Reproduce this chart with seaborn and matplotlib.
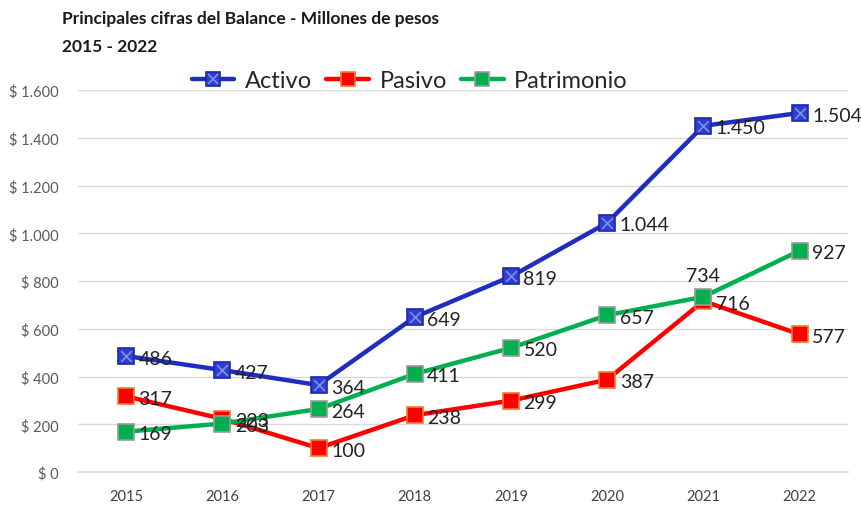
import pandas as pd
import seaborn as sns
import matplotlib.pyplot as plt
from matplotlib.lines import Line2D
from matplotlib.legend_handler import HandlerTuple

# Data
years = ['2015', '2016', '2017', '2018', '2019', '2020', '2021', '2022']
activo = [486, 427, 364, 649, 819, 1044, 1450, 1504]
pasivo = [317, 223, 100, 238, 299, 387, 716, 577]
patrimonio = [169, 203, 264, 411, 520, 657, 734, 927]
series_names = ['Activo', 'Pasivo', 'Patrimonio']

line_colors = {'Activo': '#1F2DC0', 'Pasivo': '#FF0000', 'Patrimonio': '#00B050'}
face_colors = {'Activo': '#2E3FD0', 'Pasivo': '#FF0000', 'Patrimonio': '#00B050'}
edge_colors = {'Activo': '#1A2AA8', 'Pasivo': '#F07A30', 'Patrimonio': '#9A9A9A'}

df = pd.DataFrame({'pos': list(range(len(years))) * 3,
                   'valor': activo + pasivo + patrimonio,
                   'serie': [s for s in series_names for _ in years]})

sns.set_theme(style='white')
plt.rcParams['font.family'] = ['Lato', 'DejaVu Sans']

fig = plt.figure(figsize=(8.61, 5.10), dpi=100)
ax = fig.add_axes([0.0906, 0.0725, 0.894, 0.749])

for name in series_names:
    sub = df[df['serie'] == name]
    sns.lineplot(data=sub, x='pos', y='valor', ax=ax, color=line_colors[name],
                 linewidth=3.2, marker='s', markersize=11,
                 markerfacecolor=face_colors[name], markeredgecolor=edge_colors[name],
                 markeredgewidth=1.2, legend=False, zorder=3)

# X inside Activo markers
ax.scatter(range(len(years)), activo, marker='x', s=60, color='#8090E8',
           linewidths=1.2, zorder=4)

def fmt(v):
    return f'{v:,}'.replace(',', '.')

# Data labels
for name, vals in zip(series_names, [activo, pasivo, patrimonio]):
    for i, v in enumerate(vals):
        if name == 'Patrimonio' and i == 6:
            ax.annotate(fmt(v), (i, v), xytext=(0, 9), textcoords='offset points',
                        ha='center', va='bottom', fontsize=14, color='#222222')
        else:
            ax.annotate(fmt(v), (i, v), xytext=(9, -1.5), textcoords='offset points',
                        ha='left', va='center', fontsize=14, color='#222222',
                        annotation_clip=False)

ax.set_xlim(-0.5, len(years) - 0.5)
ax.set_ylim(0, 1600)
ax.set_yticks(range(0, 1601, 200))
ax.set_yticklabels(['$ ' + fmt(v) for v in range(0, 1601, 200)])
ax.set_xticks(range(len(years)))
ax.set_xticklabels(years)
ax.set_xlabel('')
ax.set_ylabel('')
ax.grid(axis='y', color='#D9D9D9', linewidth=1)
ax.grid(axis='x', visible=False)
for s in ['top', 'right', 'left']:
    ax.spines[s].set_visible(False)
ax.spines['bottom'].set_color('#D9D9D9')
ax.tick_params(axis='y', labelsize=10.5, labelcolor='#595959', length=0, pad=14)
ax.tick_params(axis='x', labelsize=10.5, labelcolor='#404040', length=0, pad=12)

# Legend
handles = []
for name in series_names:
    ln = Line2D([], [], color=line_colors[name], linewidth=3.2, marker='s',
                markersize=10, markerfacecolor=face_colors[name],
                markeredgecolor=edge_colors[name], markeredgewidth=1.2)
    if name == 'Activo':
        xm = Line2D([], [], linestyle='none', marker='x', markersize=7,
                    color='#8090E8', markeredgewidth=1.2)
        handles.append((ln, xm))
    else:
        handles.append(ln)
fig.legend(handles, series_names, loc='center', bbox_to_anchor=(0.476, 0.840),
           ncol=3, frameon=False, fontsize=17, handlelength=1.8,
           columnspacing=0.6, handletextpad=0.45,
           handler_map={tuple: HandlerTuple(ndivide=1)})

fig.text(0.072, 0.962, 'Principales cifras del Balance - Millones de pesos',
         fontsize=12.5, fontweight='bold', color='#1A1A1A', va='center')
fig.text(0.072, 0.908, '2015 - 2022', fontsize=12.5, fontweight='bold',
         color='#1A1A1A', va='center')

fig.savefig('out.png', dpi=100)
